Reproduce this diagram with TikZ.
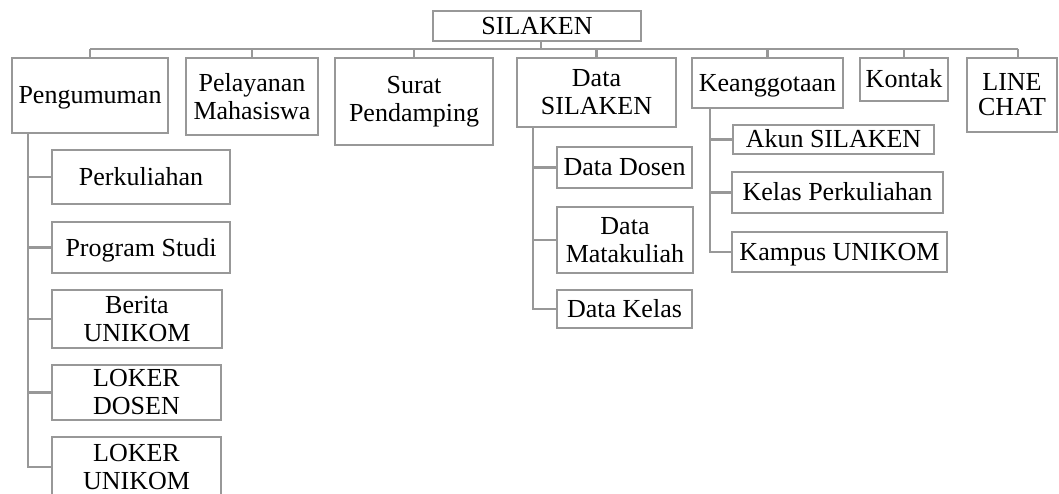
\documentclass[tikz,border=0pt]{standalone}
\usepackage{fontspec}
\setmainfont{Liberation Serif}
\definecolor{framegray}{RGB}{152,152,152}
\begin{document}
\begin{tikzpicture}[x=1pt,y=-1pt,
  box/.style={draw=framegray, line width=2.5pt, fill=white, inner sep=0pt,
    align=center, font=\fontsize{26}{28}\selectfont},
  one/.style={text height=22pt, text depth=5pt},
  link/.style={draw=framegray, line width=2.5pt}]
\useasboundingbox (0,0) rectangle (1059,494);
% box from its corner coordinates: [style], name, x1, y1, x2, y2, text
\newcommand\bx[7][]{%
  \node[box, #1, minimum width={#5-#3}, minimum height={#6-#4}]
    (#2) at ({(#3+#5)/2},{(#4+#6)/2}) {#7};}

% root and first level
\bx[one]{root}{433}{11}{641}{41}{SILAKEN}
\bx[one]{peng}{12}{58}{168}{133}{Pengumuman}
\bx{pel}{186}{58}{318}{135}{Pelayanan\\Mahasiswa}
\bx{surat}{335}{58}{493}{145}{Surat\\Pendamping}
\bx{data}{517}{58}{676}{127}{Data\\SILAKEN}
\bx[one]{keang}{692}{58}{843}{108}{Keanggotaan}
\bx[one]{kontak}{860}{58}{948}{101}{Kontak}
\bx[font=\fontsize{26}{25}\selectfont]{line}{967}{58}{1057}{132}{LINE\\CHAT}

% Pengumuman branch
\bx[one]{perk}{52}{150}{230}{204}{Perkuliahan}
\bx[one]{prog}{52}{222}{230}{273}{Program Studi}
\bx{berita}{52}{290}{222}{348}{Berita\\UNIKOM}
\bx{lokd}{52}{365}{221}{420}{LOKER\\DOSEN}
\bx{loku}{52}{437}{221}{497}{LOKER\\UNIKOM}

% Data SILAKEN branch
\bx[one]{ddosen}{557}{147}{692}{188}{Data Dosen}
\bx{dmk}{557}{207}{693}{273}{Data\\Matakuliah}
\bx[one]{dkelas}{557}{290}{692}{328}{Data Kelas}

% Keanggotaan branch
\bx[one]{akun}{733}{125}{934}{154}{Akun SILAKEN}
\bx[one]{kelas}{732}{172}{943}{213}{Kelas Perkuliahan}
\bx[one]{kampus}{732}{232}{947}{272}{Kampus UNIKOM}

% bus under the root
\coordinate (busL) at (90,49);
\coordinate (busR) at (1018,49);
\draw[link] ([xshift=4pt]root.south) -- ([xshift=4pt]root.south |- busL);
\draw[link] (busL) -- (busR);
\foreach \n in {peng,pel,surat,data,keang,kontak}
  \draw[link] (\n.north) -- (\n.north |- busL);
\draw[link] (busR) -- (busR |- line.north);

% child spines
\coordinate (pv) at (28,133);
\foreach \n in {perk,prog,berita,lokd,loku}
  \draw[link] (pv) |- (\n.west);
\coordinate (dv) at (533,127);
\foreach \n in {ddosen,dmk,dkelas}
  \draw[link] (dv) |- (\n.west);
\coordinate (kv) at (710,108);
\foreach \n in {akun,kelas,kampus}
  \draw[link] (kv) |- (\n.west);
\end{tikzpicture}
\end{document}
